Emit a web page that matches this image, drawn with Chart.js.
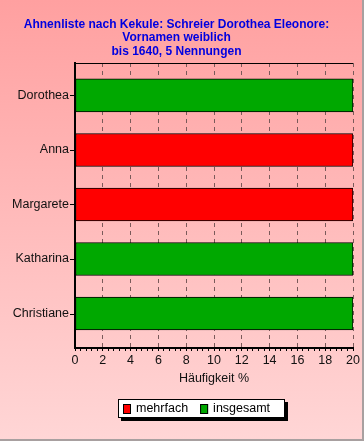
<!DOCTYPE html>
<html lang="de">
<head>
  <meta charset="UTF-8" />
  <title>Ahnenliste nach Kekule: Vornamen weiblich</title>
  <script src="https://cdn.jsdelivr.net/npm/chart.js"></script>
  <style>
    html, body { margin: 0; padding: 0; background: #fff; }
    canvas { display: block; }
  </style>
</head>
<body>
  <canvas id="chart" width="364" height="441"></canvas>

  <script>
    // Daten
    const names = ['Dorothea', 'Anna', 'Margarete', 'Katharina', 'Christiane'];
    const mehrfach = [null, 20, 20, null, null];
    const insgesamt = [20, null, null, 20, 20];
    const titleLines = ['Ahnenliste nach Kekule: Schreier Dorothea Eleonore:', 'Vornamen weiblich', 'bis 1640, 5 Nennungen'];
    const xMin = 0, xMax = 20, xMajor = 2, xMinor = 0.4;

    const FONT = "'Liberation Sans', Arial, sans-serif";
    const perMajor = Math.round(xMajor / xMinor);

    function points(values) {
      return names.map((n, i) => ({ y: i, x: values[i] })).filter(p => p.x !== null);
    }

    // Hintergrund, Rahmen, Striche an der y-Achse, Legende
    const deco = {
      id: 'deco',
      beforeDraw(chart) {
        const { ctx, width, height } = chart;
        const g = ctx.createLinearGradient(0, 0, 0, height);
        g.addColorStop(0, '#ffa0a0');
        g.addColorStop(1, '#ffd6d6');
        ctx.save();
        ctx.fillStyle = g;
        ctx.fillRect(0, 0, width, height);
        ctx.fillStyle = '#a8a0a0';
        ctx.fillRect(width - 2, 0, 2, height);
        ctx.fillRect(0, height - 2, width, 2);
        ctx.restore();
      },
      afterDraw(chart) {
        const { ctx, chartArea: a, scales: { y } } = chart;
        ctx.save();
        // obere Rahmenlinie
        ctx.strokeStyle = '#000';
        ctx.lineWidth = 1;
        ctx.beginPath();
        ctx.moveTo(a.left, a.top + 0.5);
        ctx.lineTo(a.right, a.top + 0.5);
        ctx.stroke();

        // Striche an den Namen
        names.forEach((n, i) => {
          const py = Math.round(y.getPixelForValue(i)) + 0.5;
          ctx.beginPath();
          ctx.moveTo(a.left - 5, py);
          ctx.lineTo(a.left - 1, py);
          ctx.stroke();
        });

        // Legende
        const bx = 118, by = 399, bw = 167, bh = 19;
        ctx.fillStyle = '#000';
        ctx.fillRect(bx + 3, by + 3, bw, bh);
        ctx.fillStyle = '#fff';
        ctx.fillRect(bx, by, bw, bh);
        ctx.strokeRect(bx + 0.5, by + 0.5, bw - 1, bh - 1);

        ctx.font = '12.5px ' + FONT;
        ctx.textBaseline = 'middle';
        let x = 123;
        chart.data.datasets.forEach(ds => {
          ctx.fillStyle = ds.backgroundColor;
          ctx.fillRect(x, 404, 8, 10);
          ctx.strokeStyle = '#000';
          ctx.strokeRect(x + 0.5, 404.5, 7, 9);
          ctx.fillStyle = '#000';
          ctx.fillText(ds.label, x + 13, 409);
          x += 13 + ctx.measureText(ds.label).width + 12;
        });
        ctx.restore();
      }
    };

    new Chart(document.getElementById('chart'), {
      type: 'bar',
      data: {
        datasets: [
          {
            label: 'mehrfach',
            data: points(mehrfach),
            backgroundColor: '#ff0000',
            borderColor: '#000',
            borderWidth: 1,
            borderSkipped: false
          },
          {
            label: 'insgesamt',
            data: points(insgesamt),
            backgroundColor: '#00a800',
            borderColor: '#000',
            borderWidth: 1,
            borderSkipped: false
          }
        ]
      },
      options: {
        responsive: false,
        animation: false,
        indexAxis: 'y',
        grouped: false,
        barThickness: 33,
        layout: { padding: { left: 0, right: 11, top: 0, bottom: 43 } },
        plugins: {
          legend: { display: false },
          tooltip: { enabled: false },
          title: {
            display: true,
            text: titleLines,
            color: '#0000e0',
            font: { family: FONT, size: 12, weight: 'bold', lineHeight: 1.125 },
            padding: { top: 17.75, bottom: 4.75 }
          }
        },
        scales: {
          x: {
            type: 'linear',
            min: xMin,
            max: xMax,
            afterFit: s => { s.height = 50; },
            ticks: {
              stepSize: xMinor,
              autoSkip: false,
              maxRotation: 0,
              padding: 2.5,
              color: '#111',
              font: { family: FONT, size: 12.5 },
              callback: (v, i) => (i % perMajor === 0 ? String(Math.round(v)) : '')
            },
            grid: {
              color: c => {
                const v = c.tick ? c.tick.value : 0;
                const r = Math.round(v);
                return Math.abs(v - r) < 1e-6 && r % xMajor === 0 && r !== xMin ? '#7a5a5a' : 'rgba(0,0,0,0)';
              },
              lineWidth: 1,
              tickColor: '#000',
              tickLength: 3
            },
            border: { color: '#000', width: 2, dash: [4, 4] },
            title: {
              display: true,
              text: 'Häufigkeit %',
              color: '#111',
              font: { family: FONT, size: 12.5 },
              padding: { top: 0, bottom: 11.5 }
            }
          },
          y: {
            type: 'linear',
            reverse: true,
            min: -0.0725,
            max: 4.11,
            afterFit: s => { s.width = 75; },
            afterBuildTicks: s => { s.ticks = names.map((n, i) => ({ value: i })); },
            ticks: {
              padding: 6,
              color: '#111',
              font: { family: FONT, size: 12.5 },
              callback: v => names[Math.round(v)]
            },
            grid: {
              drawOnChartArea: false,
              drawTicks: false
            },
            border: { color: '#000', width: 2 }
          }
        }
      },
      plugins: [deco]
    });
  </script>
</body>
</html>
